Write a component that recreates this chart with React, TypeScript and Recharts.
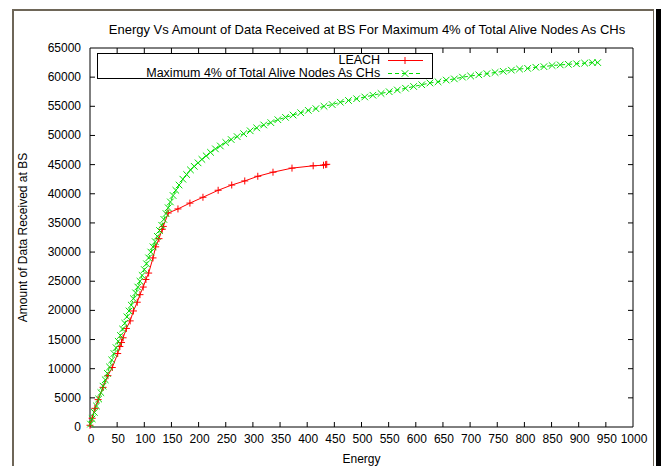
import { LineChart, Line, XAxis, YAxis, ReferenceArea, Legend } from "recharts";

// energy / data received
const leachEnergy = [0, 4, 9, 15, 24, 33, 41, 51, 55, 58, 61, 67, 74, 80, 87, 92, 98, 103, 108, 116, 121, 127, 133, 135, 144, 162, 184, 208, 236, 261, 285, 309, 337, 372, 411, 430, 434, 436];
const leachData = [300, 1500, 3200, 4700, 6800, 8800, 10200, 12600, 13800, 14500, 15300, 16900, 18200, 19900, 21400, 22700, 24000, 25300, 26400, 29000, 30900, 32300, 33900, 34400, 36700, 37400, 38400, 39400, 40600, 41500, 42200, 43000, 43700, 44400, 44800, 44900, 45000, 45050];

const maxEnergy = [1, 4, 8, 12, 16, 20, 24, 28, 32, 36, 40, 44, 48, 52, 56, 60, 64, 68, 72, 76, 80, 84, 88, 92, 96, 100, 104, 108, 112, 116, 120, 124, 128, 132, 136, 140, 144, 148, 153, 158, 164, 171, 178, 185, 192, 199, 206, 214, 222, 231, 240, 250, 260, 271, 283, 295, 307, 320, 333, 346, 360, 374, 388, 402, 416, 431, 446, 461, 476, 491, 506, 521, 536, 551, 566, 581, 596, 611, 626, 641, 656, 671, 686, 701, 716, 731, 746, 761, 776, 791, 806, 821, 836, 851, 866, 881, 896, 911, 925, 935];
const maxData = [500, 1400, 2500, 3600, 4800, 5900, 7000, 8100, 9200, 10300, 11500, 12600, 13600, 14700, 15700, 16800, 17800, 18900, 19900, 20900, 22000, 23000, 24000, 25000, 26000, 27000, 28000, 29000, 30000, 30900, 31800, 32700, 33700, 34600, 35600, 36600, 37600, 38600, 39700, 40600, 41500, 42500, 43300, 44100, 44700, 45300, 45900, 46500, 47100, 47700, 48200, 48800, 49300, 49800, 50300, 50800, 51300, 51800, 52200, 52700, 53100, 53500, 53900, 54300, 54600, 55000, 55300, 55700, 56000, 56300, 56600, 56900, 57200, 57500, 57800, 58100, 58400, 58700, 59000, 59200, 59500, 59700, 60000, 60200, 60400, 60600, 60800, 61000, 61200, 61400, 61500, 61700, 61800, 62000, 62100, 62200, 62300, 62400, 62500, 62500];

const xTicks = [0, 50, 100, 150, 200, 250, 300, 350, 400, 450, 500, 550, 600, 650, 700, 750, 800, 850, 900, 950, 1000];
const yTicks = [0, 5000, 10000, 15000, 20000, 25000, 30000, 35000, 40000, 45000, 50000, 55000, 60000, 65000];

const leach = leachEnergy.map((x, i) => ({ x, y: leachData[i] }));
const maxCH = maxEnergy.map((x, i) => ({ x, y: maxData[i] }));

const W = 661;
const H = 466;
const LEFT = 90;
const RIGHT = 633;
const TOP = 48;
const BOTTOM = 427;
const TICK = 5;
const FONT = "'Liberation Sans', Arial, sans-serif";
const RED = "#ff0000";
const GREEN = "#00dd00";

const XTick = (p: any) => {
  const { x, payload } = p;
  const edge = payload.value === 0 || payload.value === 1000;
  return (
    <g>
      {!edge && <line x1={x} x2={x} y1={BOTTOM} y2={BOTTOM - TICK} stroke="#000" />}
      {!edge && <line x1={x} x2={x} y1={TOP} y2={TOP + TICK} stroke="#000" />}
      <text x={x + 1} y={BOTTOM + 16} textAnchor="middle" fontSize={12} fontFamily={FONT} fill="#000">
        {payload.value}
      </text>
    </g>
  );
};

const YTick = (p: any) => {
  const { y, payload } = p;
  const edge = payload.value === 0 || payload.value === 65000;
  return (
    <g>
      {!edge && <line x1={LEFT} x2={LEFT + TICK} y1={y} y2={y} stroke="#000" />}
      {!edge && <line x1={RIGHT - TICK} x2={RIGHT} y1={y} y2={y} stroke="#000" />}
      <text x={LEFT - 9} y={y + 4} textAnchor="end" fontSize={12} fontFamily={FONT} fill="#000">
        {payload.value}
      </text>
    </g>
  );
};

const Plus = ({ cx, cy, color, s = 3.5 }: any) =>
  cx == null ? null : <path d={`M${cx - s},${cy}h${2 * s}M${cx},${cy - s}v${2 * s}`} stroke={color} strokeWidth={1} fill="none" />;

const Cross = ({ cx, cy, color, s = 3.3 }: any) =>
  cx == null ? null : (
    <path d={`M${cx - s},${cy - s}L${cx + s},${cy + s}M${cx - s},${cy + s}L${cx + s},${cy - s}`} stroke={color} strokeWidth={1} fill="none" />
  );

const renderLegend = (props: any) => {
  const items = props.payload || [];
  return (
    <div style={{ width: 336, height: 26, border: "1px solid #000", boxSizing: "border-box", background: "#fff", paddingTop: 0 }}>
      {items.map((it: any) => {
        const dashed = it.value !== "LEACH";
        return (
          <div key={it.value} style={{ display: "flex", height: 13, alignItems: "center" }}>
            <div style={{ width: 283, textAlign: "right", fontSize: 12.5, fontFamily: FONT, lineHeight: "13px", whiteSpace: "nowrap" }}>{it.value}</div>
            <svg width={44} height={13} style={{ marginLeft: 8 }}>
              <line x1={0} x2={35} y1={6.5} y2={6.5} stroke={it.color} strokeDasharray={dashed ? "4 3" : undefined} />
              {dashed ? <Cross cx={17} cy={6.5} color={it.color} /> : <Plus cx={17} cy={6.5} color={it.color} />}
            </svg>
          </div>
        );
      })}
    </div>
  );
};

export default function App() {
  return (
    <div style={{ position: "absolute", left: 0, top: 0, width: W, height: H, background: "#fff", overflow: "hidden" }}>
      <div style={{ position: "absolute", left: 12, top: 9, width: 642, height: 470, borderLeft: "2px solid #6e6658", borderTop: "2px solid #6e6658", borderRight: "1px solid #6e6658", boxSizing: "border-box" }} />
      <div style={{ position: "absolute", left: 656, top: 9, width: 5, height: H, background: "#000" }} />
      <div style={{ position: "absolute", left: 0, top: 22, width: 734, textAlign: "center", fontSize: 13, fontFamily: FONT, color: "#000", whiteSpace: "nowrap" }}>
        Energy Vs Amount of Data Received at BS For Maximum 4% of Total Alive Nodes As CHs
      </div>
      <div style={{ position: "absolute", left: 0, top: 0 }}>
        <LineChart width={W} height={H} margin={{ top: TOP, right: W - RIGHT, bottom: 0, left: 0 }}>
          <XAxis
            dataKey="x"
            type="number"
            domain={[0, 1000]}
            ticks={xTicks}
            height={H - BOTTOM}
            axisLine={false}
            tickLine={false}
            tick={XTick}
            interval={0}
            label={{ value: "Energy", position: "insideBottom", offset: 3, style: { fontSize: 12, fontFamily: FONT, fill: "#000" } }}
          />
          <YAxis
            type="number"
            domain={[0, 65000]}
            ticks={yTicks}
            width={LEFT}
            axisLine={false}
            tickLine={false}
            tick={YTick}
            interval={0}
            label={{ value: "Amount of Data Received at BS", angle: -90, position: "insideLeft", offset: 23, style: { textAnchor: "middle", fontSize: 12, fontFamily: FONT, fill: "#000" } }}
          />
          <ReferenceArea x1={0} x2={1000} y1={0} y2={65000} fill="none" stroke="#000" strokeWidth={1} ifOverflow="visible" />
          <Legend
            layout="horizontal"
            verticalAlign="middle"
            align="center"
            content={renderLegend}
            wrapperStyle={{ left: 97, top: 53, width: 336, height: 26 }}
          />
          <Line
            data={leach}
            dataKey="y"
            name="LEACH"
            type="linear"
            stroke={RED}
            strokeWidth={1}
            isAnimationActive={false}
            dot={(p: any) => <Plus key={p.index} cx={p.cx} cy={p.cy} color={RED} />}
            activeDot={false}
          />
          <Line
            data={maxCH}
            dataKey="y"
            name="Maximum 4% of Total Alive Nodes As CHs"
            type="linear"
            stroke={GREEN}
            strokeWidth={1}
            strokeDasharray="4 3"
            isAnimationActive={false}
            dot={(p: any) => <Cross key={p.index} cx={p.cx} cy={p.cy} color={GREEN} />}
            activeDot={false}
          />
        </LineChart>
      </div>
    </div>
  );
}
